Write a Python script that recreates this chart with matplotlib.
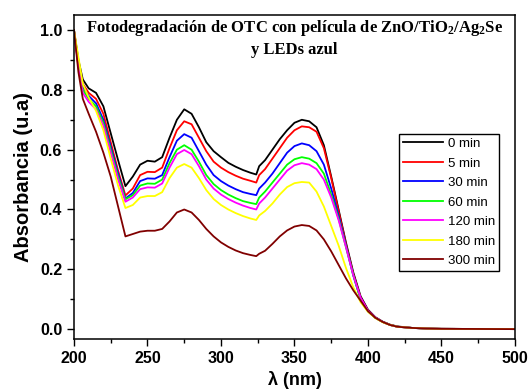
import matplotlib
matplotlib.use("Agg")
import matplotlib.pyplot as plt
from matplotlib.ticker import MultipleLocator

# === datos ===
wl = [200, 203, 206, 210, 215, 220, 225, 230, 235, 240, 245, 250, 255, 260, 265,
      270, 275, 280, 285, 290, 295, 300, 305, 310, 315, 320, 324, 326, 330, 335,
      340, 345, 350, 355, 360, 365, 370, 375, 380, 385, 390, 395, 400, 405, 410,
      415, 420, 430, 440, 450, 500]

a_0 = [1.00, 0.90, 0.835, 0.805, 0.79, 0.745, 0.655, 0.565, 0.478, 0.51, 0.55, 0.563, 0.560, 0.575, 0.64,
       0.70, 0.735, 0.72, 0.675, 0.625, 0.595, 0.575, 0.556, 0.543, 0.532, 0.523, 0.517, 0.545, 0.565, 0.60,
       0.635, 0.665, 0.69, 0.70, 0.695, 0.675, 0.615, 0.51, 0.40, 0.29, 0.19, 0.11, 0.065, 0.04, 0.025,
       0.015, 0.009, 0.004, 0.002, 0.001, 0.0]
a_5 = [1.00, 0.89, 0.82, 0.79, 0.77, 0.72, 0.625, 0.53, 0.447, 0.47, 0.515, 0.526, 0.525, 0.54, 0.605,
       0.665, 0.695, 0.685, 0.64, 0.595, 0.56, 0.54, 0.525, 0.513, 0.503, 0.496, 0.49, 0.515, 0.535, 0.57,
       0.605, 0.64, 0.665, 0.678, 0.675, 0.66, 0.605, 0.505, 0.395, 0.285, 0.185, 0.105, 0.062, 0.038, 0.024,
       0.014, 0.008, 0.004, 0.002, 0.001, 0.0]
a_30 = [1.00, 0.885, 0.81, 0.78, 0.755, 0.70, 0.61, 0.52, 0.437, 0.455, 0.495, 0.504, 0.503, 0.515, 0.575,
        0.63, 0.652, 0.64, 0.595, 0.55, 0.515, 0.495, 0.48, 0.468, 0.458, 0.452, 0.448, 0.47, 0.49, 0.52,
        0.555, 0.59, 0.612, 0.621, 0.615, 0.595, 0.55, 0.47, 0.38, 0.28, 0.18, 0.10, 0.06, 0.038, 0.024,
        0.014, 0.008, 0.004, 0.002, 0.001, 0.0]
a_60 = [1.00, 0.88, 0.80, 0.77, 0.745, 0.69, 0.60, 0.51, 0.434, 0.448, 0.48, 0.487, 0.486, 0.50, 0.555,
        0.60, 0.615, 0.60, 0.56, 0.515, 0.485, 0.465, 0.45, 0.438, 0.428, 0.422, 0.418, 0.44, 0.46, 0.49,
        0.52, 0.55, 0.568, 0.575, 0.57, 0.555, 0.52, 0.45, 0.37, 0.275, 0.18, 0.10, 0.06, 0.038, 0.024,
        0.014, 0.008, 0.004, 0.002, 0.001, 0.0]
a_120 = [1.00, 0.875, 0.79, 0.76, 0.735, 0.68, 0.59, 0.50, 0.426, 0.44, 0.468, 0.474, 0.473, 0.487, 0.54,
         0.585, 0.599, 0.585, 0.545, 0.50, 0.47, 0.45, 0.435, 0.423, 0.413, 0.405, 0.40, 0.42, 0.44, 0.47,
         0.50, 0.53, 0.548, 0.555, 0.55, 0.535, 0.50, 0.44, 0.365, 0.275, 0.18, 0.105, 0.062, 0.039, 0.024,
         0.014, 0.008, 0.004, 0.002, 0.001, 0.0]
a_180 = [1.00, 0.91, 0.82, 0.775, 0.73, 0.665, 0.57, 0.48, 0.405, 0.415, 0.44, 0.445, 0.445, 0.458, 0.505,
         0.54, 0.552, 0.54, 0.505, 0.465, 0.435, 0.415, 0.40, 0.388, 0.378, 0.37, 0.365, 0.38, 0.395, 0.42,
         0.45, 0.475, 0.488, 0.492, 0.49, 0.46, 0.41, 0.345, 0.28, 0.205, 0.14, 0.09, 0.058, 0.037, 0.023,
         0.014, 0.008, 0.004, 0.002, 0.001, 0.0]
a_300 = [1.00, 0.86, 0.77, 0.72, 0.66, 0.59, 0.51, 0.41, 0.31, 0.318, 0.326, 0.329, 0.329, 0.335, 0.36,
         0.39, 0.40, 0.39, 0.365, 0.335, 0.31, 0.29, 0.275, 0.263, 0.254, 0.248, 0.244, 0.252, 0.262, 0.285,
         0.31, 0.33, 0.343, 0.348, 0.345, 0.33, 0.30, 0.26, 0.215, 0.17, 0.13, 0.095, 0.06, 0.038, 0.024,
         0.014, 0.008, 0.004, 0.002, 0.001, 0.0]

series = [a_0, a_5, a_30, a_60, a_120, a_180, a_300]
etiquetas = ["0 min", "5 min", "30 min", "60 min", "120 min", "180 min", "300 min"]
colores = ["#000000", "#FF0000", "#0000FF", "#00FF00", "#FF00FF", "#FFFF00", "#800000"]

# === estilo ===
plt.rcParams['font.family'] = ['Liberation Sans', 'DejaVu Sans']
plt.rcParams['mathtext.fontset'] = 'custom'
plt.rcParams['mathtext.rm'] = 'Liberation Serif:bold'
plt.rcParams['mathtext.it'] = 'Liberation Serif:bold'
plt.rcParams['mathtext.bf'] = 'Liberation Serif:bold'

fig = plt.figure(figsize=(5.3, 3.9), dpi=100)
ax = fig.add_axes([0.1396, 0.1308, 0.832, 0.832])

for ys, lab, c in zip(series, etiquetas, colores):
    ax.plot(wl, ys, color=c, lw=1.3, label=lab)

ax.set_xlim(200, 500)
ax.set_ylim(-0.033, 1.052)
ax.xaxis.set_major_locator(MultipleLocator(50))
ax.xaxis.set_minor_locator(MultipleLocator(25))
ax.yaxis.set_major_locator(MultipleLocator(0.2))
ax.yaxis.set_minor_locator(MultipleLocator(0.1))
ax.yaxis.set_major_formatter(matplotlib.ticker.FormatStrFormatter('%.1f'))
ax.tick_params(which='both', direction='out', top=False, right=False, width=1)
ax.tick_params(which='major', length=5, labelsize=11.5)
ax.tick_params(which='minor', length=3)
for lbl in ax.get_xticklabels() + ax.get_yticklabels():
    lbl.set_fontweight('bold')
for sp in ax.spines.values():
    sp.set_linewidth(1.1)

ax.set_xlabel("λ (nm)", fontsize=13, fontweight='bold', labelpad=4)
ax.set_ylabel("Absorbancia (u.a)", fontsize=14.5, fontweight='bold', labelpad=5)

ax.text(0.5, 0.99, "Fotodegradación de OTC con película de ZnO/TiO$_2$/Ag$_2$Se\ny LEDs azul",
        transform=ax.transAxes, ha='center', va='top', fontsize=12,
        family='Liberation Serif', fontweight='bold', linespacing=1.35)

leg = ax.legend(loc='upper right', bbox_to_anchor=(0.964, 0.632), borderaxespad=0,
                fontsize=9.5, handlelength=3.0, handletextpad=0.4, labelspacing=0.55,
                fancybox=False, framealpha=1, edgecolor='black', borderpad=0.3)
leg.get_frame().set_linewidth(1.0)

fig.savefig("out.png", dpi=100)
